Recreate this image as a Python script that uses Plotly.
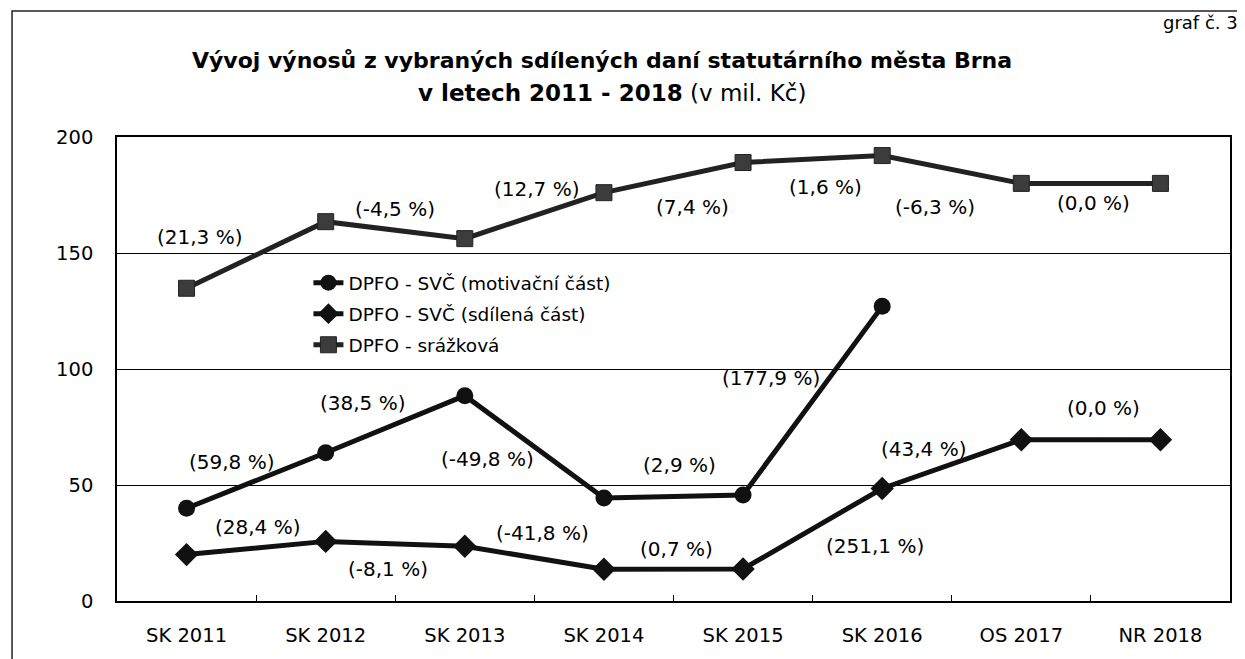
import plotly.graph_objects as go

categories = ["SK 2011", "SK 2012", "SK 2013", "SK 2014", "SK 2015", "SK 2016", "OS 2017", "NR 2018"]

motivacni = [40.0, 63.9, 88.5, 44.4, 45.7, 127.0, None, None]
sdilena = [20.0, 25.7, 23.6, 13.7, 13.8, 48.5, 69.5, 69.5]
srazkova = [134.8, 163.5, 156.2, 176.0, 189.0, 192.0, 180.0, 180.0]

series_names = ["DPFO - SVČ (motivační část)", "DPFO - SVČ (sdílená část)", "DPFO - srážková"]

srazkova_labels = ["(21,3 %)", "(-4,5 %)", "(12,7 %)", "(7,4 %)", "(1,6 %)", "(-6,3 %)", "(0,0 %)"]
motivacni_labels = ["(59,8 %)", "(38,5 %)", "(-49,8 %)", "(2,9 %)", "(177,9 %)"]
sdilena_labels = ["(28,4 %)", "(-8,1 %)", "(-41,8 %)", "(0,7 %)", "(251,1 %)", "(43,4 %)", "(0,0 %)"]

# label placement (category-index x, value-axis y)
srazkova_pos = [(0.10, 157), (1.50, 169), (2.52, 177.5), (3.64, 170), (4.59, 178.5), (5.38, 169.7), (6.52, 171.5)]
motivacni_pos = [(0.33, 59.8), (1.27, 85.5), (2.16, 61.1), (3.54, 58.5), (4.20, 96.2)]
sdilena_pos = [(0.51, 32), (1.45, 13.7), (2.56, 29.5), (3.52, 22.4), (4.95, 23.9), (5.30, 65.4), (6.59, 83.3)]

FONT = "Tahoma, 'DejaVu Sans', sans-serif"
INK = "#111111"

fig = go.Figure()
fig.add_trace(go.Scatter(
    x=categories, y=motivacni, name=series_names[0], mode="lines+markers",
    line=dict(color=INK, width=5), legendgroup="a",
    marker=dict(symbol="circle", size=17, color=INK),
    connectgaps=False))
fig.add_trace(go.Scatter(
    x=categories, y=sdilena, name=series_names[1], mode="lines+markers",
    line=dict(color=INK, width=5), legendgroup="b",
    marker=dict(symbol="diamond", size=18, color=INK)))
fig.add_trace(go.Scatter(
    x=categories, y=srazkova, name=series_names[2], mode="lines+markers",
    line=dict(color="#222222", width=5), legendgroup="c",
    marker=dict(symbol="square", size=16, color="#3c3c3c", line=dict(color="#222222", width=1))))

annotations = []
for texts, pos in ((srazkova_labels, srazkova_pos), (motivacni_labels, motivacni_pos), (sdilena_labels, sdilena_pos)):
    for t, (px, py) in zip(texts, pos):
        annotations.append(dict(x=px, y=py, xref="x", yref="y", text=t, showarrow=False,
                                font=dict(family=FONT, size=20, color="#000")))

annotations.append(dict(
    x=0.4358, y=1.1645, xref="paper", yref="paper", xanchor="center", yanchor="middle",
    text="<b>Vývoj výnosů z vybraných sdílených daní statutárního města Brna</b>",
    showarrow=False, font=dict(family=FONT, size=22, color="#000")))
annotations.append(dict(
    x=0.4447, y=1.094, xref="paper", yref="paper", xanchor="center", yanchor="middle",
    text="<b>v letech 2011 - 2018</b> (v mil. Kč)",
    showarrow=False, font=dict(family=FONT, size=23, color="#000")))
annotations.append(dict(
    x=1.009, y=1.2457, xref="paper", yref="paper", xanchor="right", yanchor="middle",
    text="graf č. 3", showarrow=False, font=dict(family=FONT, size=18, color="#000")))

fig.update_layout(
    width=1237, height=651,
    margin=dict(l=109, r=15, t=129, b=54),
    paper_bgcolor="white", plot_bgcolor="white",
    font=dict(family=FONT, size=19.5, color="#000"),
    showlegend=True,
    legend=dict(x=0.172, y=0.726, xanchor="left", yanchor="top",
                bgcolor="rgba(0,0,0,0)", font=dict(family=FONT, size=18.5, color="#000"),
                tracegroupgap=4),
    annotations=annotations,
    shapes=[dict(type="rect", xref="paper", yref="paper", x0=-0.0943, x1=1.03, y0=-0.3, y1=1.2714,
                 line=dict(color="#222", width=1.5), layer="below")],
)
fig.update_xaxes(
    type="category", range=[-0.5, 7.5], showline=True, linecolor="#000", linewidth=1.5, mirror=True,
    ticks="inside", tickson="boundaries", ticklen=6, tickcolor="#000", showgrid=False,
    ticklabelstandoff=16, tickfont=dict(family=FONT, size=19.5))
fig.update_yaxes(
    range=[0, 200], dtick=50, showline=True, linecolor="#000", linewidth=1.5, mirror=True,
    showgrid=True, gridcolor="#000", gridwidth=1, zeroline=False, ticks="",
    ticklabelstandoff=18, tickfont=dict(family=FONT, size=19.5))

fig.write_html("out.html")
